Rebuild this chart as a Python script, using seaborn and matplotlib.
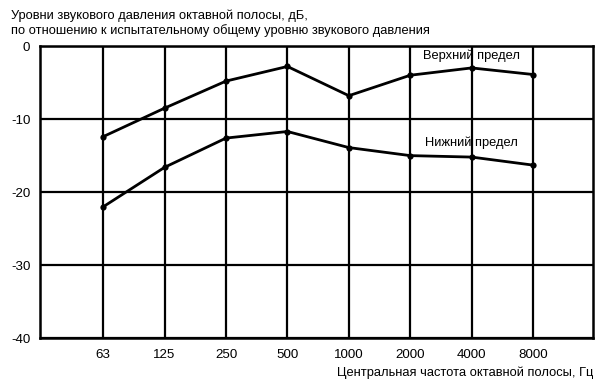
import matplotlib
matplotlib.use("Agg")
import matplotlib.pyplot as plt
import seaborn as sns
import pandas as pd

freqs = ["63", "125", "250", "500", "1000", "2000", "4000", "8000"]
upper = [-12.4, -8.5, -4.8, -2.8, -6.8, -4.0, -3.0, -3.9]
lower = [-22.0, -16.6, -12.6, -11.7, -13.9, -15.0, -15.2, -16.3]
series_names = ["Верхний предел", "Нижний предел"]
yticks = [0, -10, -20, -30, -40]

sns.set_theme(style="white")
plt.rcParams['font.family'] = ['Liberation Sans', 'DejaVu Sans']

df = pd.DataFrame({
    "pos": list(range(len(freqs))) * 2,
    "val": upper + lower,
    "series": [series_names[0]] * len(freqs) + [series_names[1]] * len(freqs),
})

fig = plt.figure(figsize=(6.02, 3.85), dpi=100)
ax = fig.add_axes([0.0664, 0.1213, 0.918, 0.7592])

sns.lineplot(data=df, x="pos", y="val", hue="series", palette=["black", "black"],
             marker="o", markersize=4.5, markeredgewidth=0, linewidth=2.0,
             legend=False, ax=ax, zorder=5)

ax.set_xlim(-1.03, 7.97)
ax.set_ylim(-40, 0)
ax.set_xticks(range(len(freqs)))
ax.set_xticklabels(freqs)
ax.set_yticks(yticks)
ax.set_yticklabels([str(v) for v in yticks])
ax.grid(True, color="black", linewidth=1.6)
ax.set_axisbelow(True)
for s in ax.spines.values():
    s.set_color("black")
    s.set_linewidth(1.8)
ax.tick_params(axis="both", which="major", direction="out", width=1.6,
               color="black", labelsize=9.6, labelcolor="black")
ax.tick_params(axis="x", length=6, pad=2)
ax.tick_params(axis="y", length=5, pad=2)
ax.set_xlabel("")
ax.set_ylabel("")

fs = 9.3
# series labels
ax.text(6.0, -1.37, series_names[0], fontsize=fs, ha="center", va="center", color="black")
ax.text(6.0, -13.3, series_names[1], fontsize=fs, ha="center", va="center", color="black")

fig.text(0.019, 0.959, "Уровни звукового давления октавной полосы, дБ,", fontsize=fs,
         ha="left", va="center", color="black")
fig.text(0.019, 0.920, "по отношению к испытательному общему уровню звукового давления", fontsize=fs,
         ha="left", va="center", color="black")
fig.text(0.985, 0.032, "Центральная частота октавной полосы, Гц", fontsize=fs,
         ha="right", va="center", color="black")

fig.savefig("out.png", dpi=100)
